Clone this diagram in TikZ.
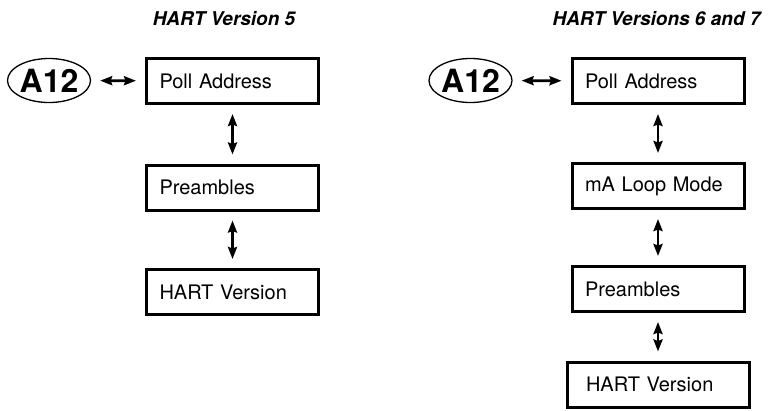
\documentclass[tikz,border=0pt]{standalone}
\usepackage{fontspec}
\setmainfont{TeX Gyre Heros}
\usetikzlibrary{arrows.meta,shapes.geometric}

\begin{document}
\begin{tikzpicture}[x=1pt, y=-1pt,
  menubox/.style={draw, line width=3pt, minimum height=45pt, text width=146pt,
    inner xsep=13pt, align=left, font=\fontsize{20}{24}\selectfont},
  keyoval/.style={draw, ellipse, line width=1.3pt, minimum width=81pt,
    minimum height=44pt, inner sep=0pt, font=\bfseries\fontsize{32}{32}\selectfont},
  heading/.style={font=\bfseries\itshape\fontsize{19}{22}\selectfont},
  link/.style={{Stealth[length=12pt,width=9pt,inset=1.5pt]}-{Stealth[length=12pt,width=9pt,inset=1.5pt]},
    line width=2.7pt, shorten >=9pt, shorten <=9pt}]
\useasboundingbox (0,0) rectangle (778,410);
% ---------- Left: HART version 5 ----------
\begin{scope}
  \node[heading] (titleL) at (224,19) {HART Version 5};
  \node[keyoval] (keyL) at (49,80.5) {A12};
  \node[menubox] (pollL) at (232.5,81) {Poll Address};
  \node[menubox] (preL) at (232.5,187.5) {Preambles};
  \node[menubox] (hartL) at (232.5,292) {HART Version};
  \draw[link] (keyL) -- (pollL);
  \foreach \a/\b in {pollL/preL, preL/hartL}
    \draw[link] (\a) -- (\b);
\end{scope}
% ---------- Right: HART versions 6 and 7 ----------
\begin{scope}[xshift=425.5pt]
  \node[heading] (titleR) at (231,19) {HART Versions 6 and 7};
  \node[keyoval] (keyR) at (45,80.5) {A12};
  \node[menubox] (pollR) at (232.5,81) {Poll Address};
  \node[menubox] (loopR) at (232.5,186) {mA Loop Mode};
  \node[menubox] (preR) at (232.5,289) {Preambles};
  % last box is a little wider
  \node[menubox, inner xsep=19pt, text width=144pt] (hartR) at (232.5,384.5) {HART Version};
  \draw[link] (keyR) -- (pollR);
  \foreach \a/\b in {pollR/loopR, loopR/preR, preR/hartR}
    \draw[link] (\a) -- (\b);
\end{scope}
\end{tikzpicture}
\end{document}
